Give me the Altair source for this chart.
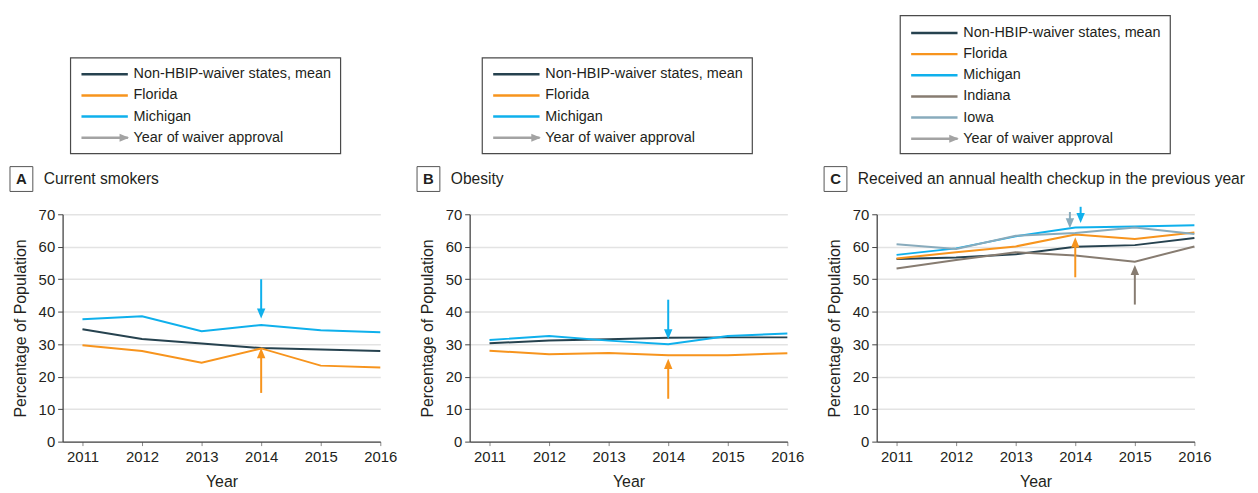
import altair as alt
import pandas as pd

FONT = "Liberation Sans"
TXT = "#231f20"

years = [2011, 2012, 2013, 2014, 2015, 2016]

MEAN = "Non-HBIP-waiver states, mean"
FL = "Florida"
MI = "Michigan"
IN = "Indiana"
IA = "Iowa"
APPROVAL = "Year of waiver approval"

# Panel A: current smokers
a_mean = [34.6, 31.6, 30.2, 28.8, 28.4, 27.9]
a_florida = [29.7, 27.9, 24.3, 28.7, 23.4, 22.8]
a_michigan = [37.7, 38.6, 34.0, 35.9, 34.3, 33.7]

# Panel B: obesity
b_mean = [30.3, 31.1, 31.5, 32.0, 32.1, 32.1]
b_florida = [28.0, 26.9, 27.3, 26.6, 26.6, 27.2]
b_michigan = [31.3, 32.5, 31.1, 30.0, 32.5, 33.3]

# Panel C: annual health checkup
c_mean = [56.2, 56.7, 57.7, 60.0, 60.5, 62.7]
c_florida = [56.4, 58.3, 60.1, 63.8, 62.4, 64.4]
c_michigan = [57.5, 59.5, 63.2, 65.9, 66.2, 66.6]
c_indiana = [53.3, 55.9, 58.3, 57.3, 55.4, 60.1]
c_iowa = [60.8, 59.3, 63.4, 64.2, 65.9, 63.9]

# Waiver-approval arrows: state, year, start value, tip value
a_arrow_state = [MI, FL]
a_arrow_year = [2014, 2014]
a_arrow_start = [50.0, 15.0]
a_arrow_tip = [37.9, 28.8]

b_arrow_state = [MI, FL]
b_arrow_year = [2014, 2014]
b_arrow_start = [43.7, 13.2]
b_arrow_tip = [31.5, 25.5]

c_arrow_state = [IA, MI, FL, IN]
c_arrow_year = [2013.91, 2014.09, 2014, 2015]
c_arrow_start = [70.7, 72.3, 50.6, 42.2]
c_arrow_tip = [65.7, 67.3, 62.9, 54.4]

COLORS = {
    MEAN: "#26424f",
    FL: "#f7941d",
    MI: "#0fb0ec",
    IN: "#877c71",
    IA: "#88abbc",
    APPROVAL: "#a3a3a3",
}
ALL = [MEAN, FL, MI, IN, IA, APPROVAL]
CSCALE = alt.Scale(domain=ALL, range=[COLORS[s] for s in ALL])

DOWN = "M-1,-2.4L1,-2.4L0,0Z"
UP = "M-1,2.4L1,2.4L0,0Z"
RIGHT = "M-2.4,-1L-2.4,1L0,0Z"

W, H = 320, 229

XSCALE = alt.Scale(domain=[2010.6667, 2016], nice=False, zero=False)
YSCALE = alt.Scale(domain=[0, 70], nice=False)
XAXIS = alt.Axis(values=years, format="d", title="Year", grid=False,
                 labelFlush=False, labelOverlap=False)
YAXIS = alt.Axis(values=list(range(0, 71, 10)), title="Percentage of Population",
                 grid=True, labelOverlap=False, labelFlush=False)


def X(field):
    return alt.X(field, scale=XSCALE, axis=XAXIS)


def Y(field):
    return alt.Y(field, scale=YSCALE, axis=YAXIS)


def C():
    return alt.Color("series:N", scale=CSCALE, legend=None)


def panel(letter, title, series, values, arr_state, arr_year, arr_start, arr_tip,
          box_left, box_top, first_row):
    dom = series + [APPROVAL]

    rows = []
    for s, vals in zip(series, values):
        for y, v in zip(years, vals):
            rows.append({"series": s, "year": y, "value": v})
    df = pd.DataFrame(rows)

    lines = alt.Chart(df).mark_line(strokeWidth=2).encode(
        x=X("year:Q"), y=Y("value:Q"), color=C(), detail="series:N",
    )

    adf = pd.DataFrame({"series": arr_state, "year": arr_year,
                        "start": arr_start, "tip": arr_tip})
    abase = alt.Chart(adf).transform_calculate(
        dir="datum.start > datum.tip ? 'down' : 'up'",
        shaft="datum.tip + (datum.start > datum.tip ? 2 : -2)",
    )
    shafts = abase.mark_rule(strokeWidth=2, clip=False).encode(
        x=X("year:Q"), y=Y("start:Q"), y2="shaft:Q", color=C(),
    )
    heads = abase.mark_point(filled=True, opacity=1, size=72, clip=False).encode(
        x=X("year:Q"), y=Y("tip:Q"), color=C(),
        shape=alt.Shape("dir:N", scale=alt.Scale(domain=["down", "up"], range=[DOWN, UP]),
                        legend=None),
    )

    one = pd.DataFrame({"k": [0]})
    box = alt.Chart(one).mark_rect(fill="white", stroke="#4a4a4a", strokeWidth=1.2).encode(
        x=alt.value(box_left), x2=alt.value(box_left + 272),
        y=alt.value(box_top), y2=alt.value(-61),
    )

    ldf = pd.DataFrame({"series": dom, "row": list(range(len(dom)))})
    lbase = alt.Chart(ldf).transform_calculate(ly=f"{first_row} + datum.row * 21.3")
    lrules = lbase.mark_rule(strokeWidth=2.5).encode(
        x=alt.value(box_left + 11), x2=alt.value(box_left + 57.7),
        y=alt.Y("ly:Q", scale=None), color=C(),
    )
    lhead = lbase.transform_filter(alt.datum.series == APPROVAL).mark_point(
        filled=True, opacity=1, size=64, shape=RIGHT, color=COLORS[APPROVAL]
    ).encode(x=alt.value(box_left + 59), y=alt.Y("ly:Q", scale=None))
    ltext = lbase.mark_text(align="left", baseline="middle", fontSize=14.5,
                            font=FONT, color=TXT).encode(
        x=alt.value(box_left + 63.5), y=alt.Y("ly:Q", scale=None), text="series:N",
    )

    tbox = alt.Chart(one).mark_rect(fill="white", stroke="#555", strokeWidth=1).encode(
        x=alt.value(-53), x2=alt.value(-30), y=alt.value(-48), y2=alt.value(-23),
    )
    tletter = alt.Chart(one).mark_text(align="center", baseline="middle", fontSize=15,
                                       fontWeight="bold", font=FONT, color=TXT).encode(
        x=alt.value(-41.5), y=alt.value(-35), text=alt.value(letter),
    )
    ttext = alt.Chart(one).mark_text(align="left", baseline="middle", fontSize=15.7,
                                     font=FONT, color=TXT).encode(
        x=alt.value(-19), y=alt.value(-35), text=alt.value(title),
    )

    return alt.layer(lines, shafts, heads, box, lrules, lhead, ltext,
                     tbox, tletter, ttext).properties(width=W, height=H)


pa = panel("A", "Current smokers", [MEAN, FL, MI], [a_mean, a_florida, a_michigan],
           a_arrow_state, a_arrow_year, a_arrow_start, a_arrow_tip,
           box_left=8, box_top=-157.6, first_row=-141)
pb = panel("B", "Obesity", [MEAN, FL, MI], [b_mean, b_florida, b_michigan],
           b_arrow_state, b_arrow_year, b_arrow_start, b_arrow_tip,
           box_left=12.7, box_top=-157.6, first_row=-141)
pc = panel("C", "Received an annual health checkup in the previous year",
           [MEAN, FL, MI, IN, IA], [c_mean, c_florida, c_michigan, c_indiana, c_iowa],
           c_arrow_state, c_arrow_year, c_arrow_start, c_arrow_tip,
           box_left=23.7, box_top=-200, first_row=-182.6)

chart = alt.hconcat(pa, pb, pc, spacing=90, bounds="flush").properties(
    padding={"left": 1, "top": 5, "right": 5, "bottom": 5}
).configure_view(
    stroke=None
).configure_axis(
    labelFont=FONT, titleFont=FONT, labelFontSize=15, titleFontSize=16,
    labelColor=TXT, titleColor=TXT, titleFontWeight="normal",
    domainColor="#444", domainWidth=1.3, tickColor="#444",
    gridColor="#e3e3e3", gridWidth=1.5,
).configure_axisY(
    tickSize=5, labelPadding=3, titlePadding=10,
).configure_axisX(
    tickSize=4, labelPadding=4, titlePadding=9, tickColor="#888",
)

chart.save("out.html", embed_options={"renderer": "svg", "actions": False})
